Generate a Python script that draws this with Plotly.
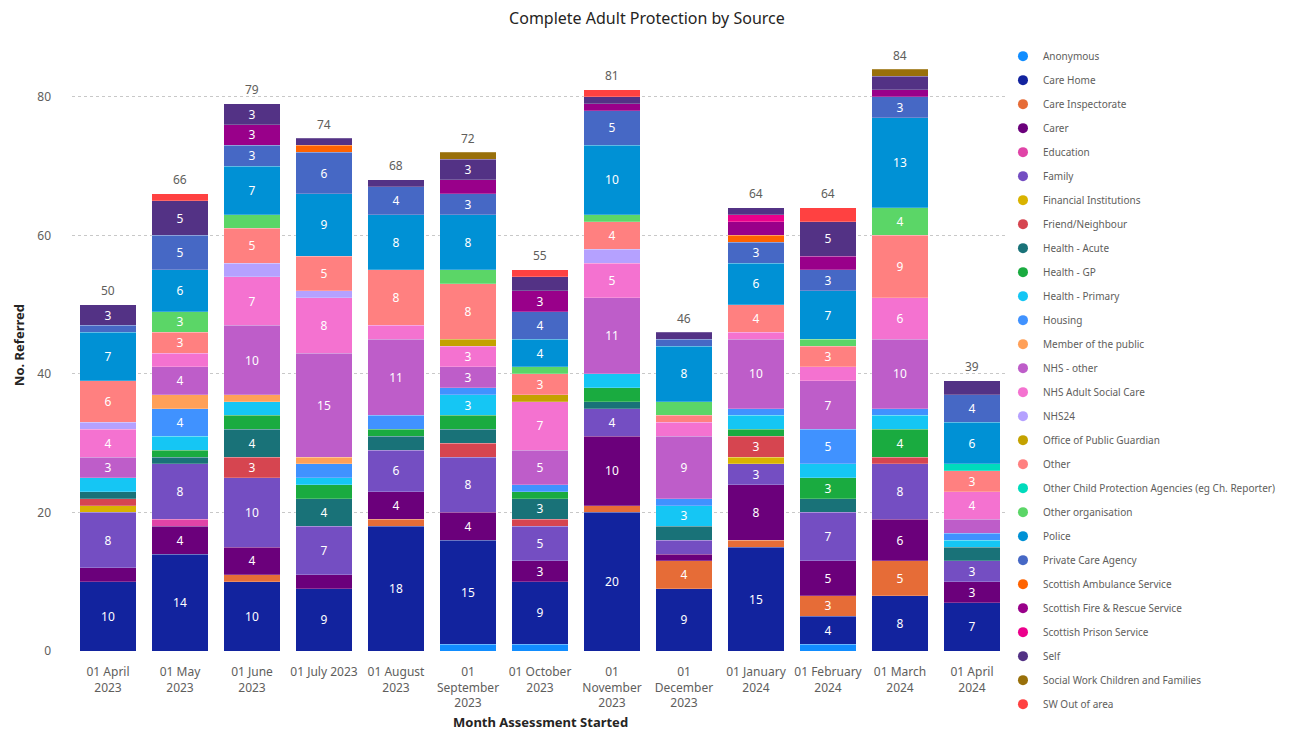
import plotly.graph_objects as go

months = ["01 April<br>2023", "01 May<br>2023", "01 June<br>2023", "01 July 2023",
          "01 August<br>2023", "01<br>September<br>2023", "01 October<br>2023",
          "01<br>November<br>2023", "01<br>December<br>2023", "01 January<br>2024",
          "01 February<br>2024", "01 March<br>2024", "01 April<br>2024"]

sources = ["Anonymous", "Care Home", "Care Inspectorate", "Carer", "Education", "Family",
           "Financial Institutions", "Friend/Neighbour", "Health - Acute", "Health - GP",
           "Health - Primary", "Housing", "Member of the public", "NHS - other",
           "NHS Adult Social Care", "NHS24", "Office of Public Guardian", "Other",
           "Other Child Protection Agencies (eg Ch. Reporter)", "Other organisation", "Police",
           "Private Care Agency", "Scottish Ambulance Service", "Scottish Fire & Rescue Service",
           "Scottish Prison Service", "Self", "Social Work Children and Families", "SW Out of area"]

anonymous = [0, 0, 0, 0, 0, 1, 1, 0, 0, 0, 1, 0, 0]
care_home = [10, 14, 10, 9, 18, 15, 9, 20, 9, 15, 4, 8, 7]
care_inspectorate = [0, 0, 1, 0, 1, 0, 0, 1, 4, 1, 3, 5, 0]
carer = [2, 4, 4, 2, 4, 4, 3, 10, 1, 8, 5, 6, 3]
education = [0, 1, 0, 0, 0, 0, 0, 0, 0, 0, 0, 0, 0]
family = [8, 8, 10, 7, 6, 8, 5, 4, 2, 3, 7, 8, 3]
financial = [1, 0, 0, 0, 0, 0, 0, 0, 0, 1, 0, 0, 0]
friend_neighbour = [1, 0, 3, 0, 0, 2, 1, 0, 0, 3, 0, 1, 0]
health_acute = [1, 1, 4, 4, 2, 2, 3, 1, 2, 0, 2, 0, 2]
health_gp = [0, 1, 2, 2, 1, 2, 1, 2, 0, 1, 3, 4, 0]
health_primary = [2, 2, 2, 1, 0, 3, 0, 2, 3, 2, 2, 2, 1]
housing = [0, 4, 0, 2, 2, 1, 1, 0, 1, 1, 5, 1, 1]
member_public = [0, 2, 1, 1, 0, 0, 0, 0, 0, 0, 0, 0, 0]
nhs_other = [3, 4, 10, 15, 11, 3, 5, 11, 9, 10, 7, 10, 2]
nhs_asc = [4, 2, 7, 8, 2, 3, 7, 5, 2, 1, 2, 6, 4]
nhs24 = [1, 0, 2, 1, 0, 0, 0, 2, 0, 0, 0, 0, 0]
opg = [0, 0, 0, 0, 0, 1, 1, 0, 0, 0, 0, 0, 0]
other = [6, 3, 5, 5, 8, 8, 3, 4, 1, 4, 3, 9, 3]
other_cp = [0, 0, 0, 0, 0, 0, 0, 0, 0, 0, 0, 0, 1]
other_org = [0, 3, 2, 0, 0, 2, 1, 1, 2, 0, 1, 4, 0]
police = [7, 6, 7, 9, 8, 8, 4, 10, 8, 6, 7, 13, 6]
private_care = [1, 5, 3, 6, 4, 3, 4, 5, 1, 3, 3, 3, 4]
ambulance = [0, 0, 0, 1, 0, 0, 0, 0, 0, 1, 0, 0, 0]
fire_rescue = [0, 0, 3, 0, 0, 2, 3, 1, 0, 2, 2, 1, 0]
prison = [0, 0, 0, 0, 0, 0, 0, 0, 0, 1, 0, 0, 0]
self_ref = [3, 5, 3, 1, 1, 3, 2, 1, 1, 1, 5, 2, 2]
sw_children = [0, 0, 0, 0, 0, 1, 0, 0, 0, 0, 0, 1, 0]
sw_out = [0, 1, 0, 0, 0, 0, 1, 1, 0, 0, 2, 0, 0]

series = [anonymous, care_home, care_inspectorate, carer, education, family, financial,
          friend_neighbour, health_acute, health_gp, health_primary, housing, member_public,
          nhs_other, nhs_asc, nhs24, opg, other, other_cp, other_org, police, private_care,
          ambulance, fire_rescue, prison, self_ref, sw_children, sw_out]

colors = ["#118DFF", "#12239E", "#E66C37", "#6B007B", "#E044A7", "#744EC2", "#D9B300",
          "#D64550", "#197278", "#1AAB40", "#15C6F4", "#4092FF", "#FFA058", "#BE5DC9",
          "#F472D0", "#B5A1FF", "#C4A200", "#FF8080", "#00DBBC", "#5BD667", "#0091D5",
          "#4668C5", "#FF6300", "#99008A", "#EC008C", "#533285", "#99700A", "#FF4141"]

FONT = "Segoe UI, Noto Sans, Open Sans, sans-serif"

fig = go.Figure()
for name, vals, col in zip(sources, series, colors):
    y = [v if v > 0 else None for v in vals]
    txt = [str(v) if v >= 3 else "" for v in vals]
    fig.add_trace(go.Bar(
        x=months, y=y, name=name,
        marker=dict(color=col, line=dict(width=0.6, color="rgba(255,255,255,0.35)")),
        text=txt, textposition="inside", insidetextanchor="middle", textangle=0,
        textfont=dict(color="white", size=12, family=FONT), showlegend=False,
        hoverinfo="name+y"))

for name, col in zip(sources, colors):
    fig.add_trace(go.Scatter(x=[None], y=[None], mode="markers", name=name,
                             marker=dict(symbol="circle", size=10, color=col),
                             legendgroup=name, showlegend=True))

totals = [sum(s[i] for s in series) for i in range(len(months))]
total_annotations = [
    dict(x=m, y=t, text=str(t), showarrow=False, yshift=14, xref="x", yref="y",
         font=dict(size=12, color="#605E5C", family=FONT))
    for m, t in zip(months, totals)
]

fig.update_layout(
    width=1290, height=731,
    barmode="stack", bargap=0.21,
    paper_bgcolor="white", plot_bgcolor="white",
    margin=dict(l=64, r=290, t=32, b=88, autoexpand=False),
    font=dict(family=FONT, color="#605E5C", size=12),
    title=dict(text="Complete Adult Protection by Source", x=0.4953, xref="container", xanchor="center",
               y=0.986, yref="container", yanchor="middle",
               font=dict(size=16, color="#252423", family=FONT)),
    uniformtext=dict(mode="show", minsize=12),
    legend=dict(x=0.7713, xref="container", xanchor="left", y=0.954, yref="container", yanchor="top",
                traceorder="grouped", tracegroupgap=5, maxheight=720,
                font=dict(size=10, color="#605E5C", family=FONT),
                itemwidth=30, bgcolor="rgba(0,0,0,0)"),
    xaxis=dict(showline=False, ticks="", automargin=False, ticklabelstandoff=12,
               tickfont=dict(size=12, color="#605E5C")),
    yaxis=dict(range=[0, 88.2], tickvals=[0, 20, 40, 60, 80], showgrid=True,
               gridcolor="#C8C8C8", griddash="dot", gridwidth=1, zeroline=False,
               automargin=False, ticks="", ticklabelstandoff=20,
               tickfont=dict(size=12, color="#605E5C")),
    annotations=total_annotations + [
        dict(text="<b>No. Referred</b>", xref="paper", yref="paper", x=-0.057, y=0.5,
             xanchor="center", yanchor="middle", textangle=-90, showarrow=False,
             font=dict(size=13, color="#252423", family=FONT)),
        dict(text="<b>Month Assessment Started</b>", xref="paper", yref="paper", x=0.5, y=-0.1162,
             xanchor="center", yanchor="middle", showarrow=False,
             font=dict(size=13, color="#252423", family=FONT)),
    ],
)

fig.write_html("out.html")
